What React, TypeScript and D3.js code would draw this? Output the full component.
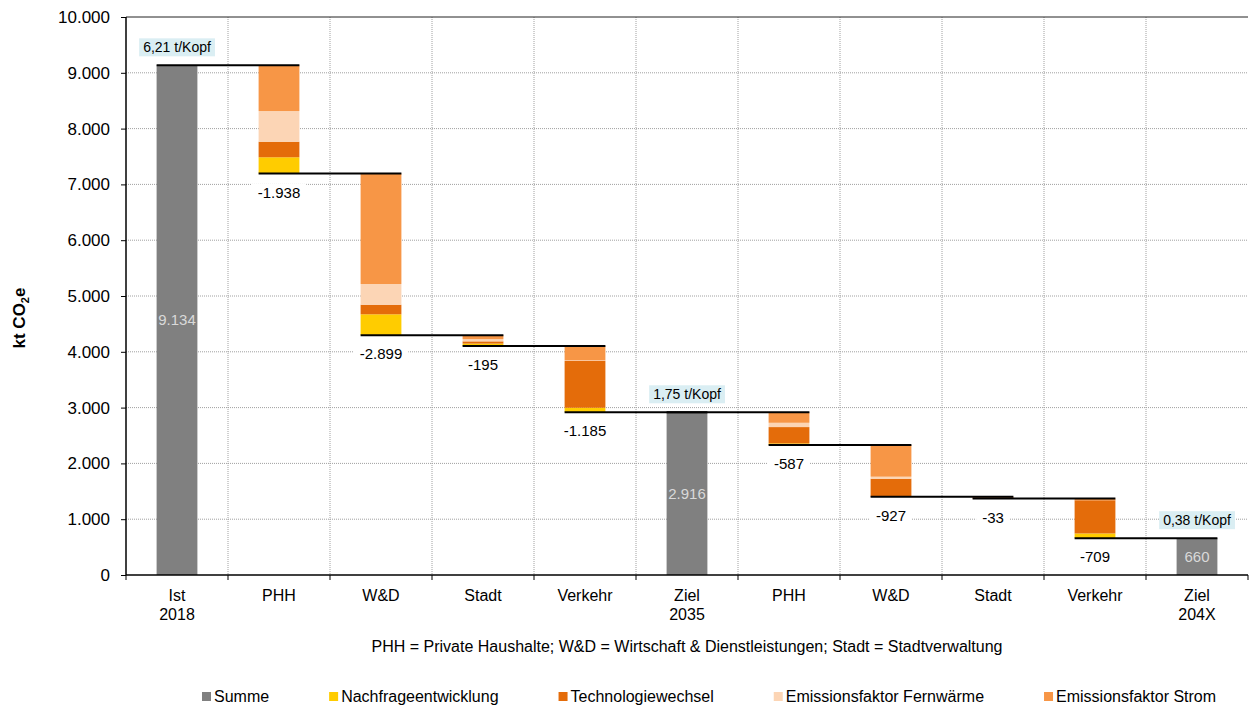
import React, { useEffect, useRef } from 'react';
import * as d3 from 'd3';

// categories (multi line tick labels)
const categories = [
  ['Ist', '2018'], ['PHH'], ['W&D'], ['Stadt'], ['Verkehr'],
  ['Ziel', '2035'], ['PHH'], ['W&D'], ['Stadt'], ['Verkehr'], ['Ziel', '204X']
];

// totals (only for Summe bars)
const summe = [9134, null, null, null, null, 2916, null, null, null, null, 660];

// reductions per driver (kt CO2e)
const nachfrage = [0, 290, 375, 45, 80, 0, 30, 0, 0, 85, 0];
const technologie = [0, 279, 172, 40, 840, 0, 292, 324, 20, 594, 0];
const fernwaerme = [0, 550, 371, 40, 10, 0, 77, 36, 0, 0, 0];
const strom = [0, 819, 1981, 70, 255, 0, 188, 567, 13, 30, 0];

const perCapita = ['6,21 t/Kopf', null, null, null, null, '1,75 t/Kopf', null, null, null, null, '0,38 t/Kopf'];

const yTicks = [0, 1000, 2000, 3000, 4000, 5000, 6000, 7000, 8000, 9000, 10000];

const seriesNames = ['Summe', 'Nachfrageentwicklung', 'Technologiewechsel', 'Emissionsfaktor Fernwärme', 'Emissionsfaktor Strom'];
const seriesColors = ['#808080', '#FFCC00', '#E46C0A', '#FCD5B5', '#F79646'];

const footnote = 'PHH = Private Haushalte; W&D = Wirtschaft & Dienstleistungen; Stadt = Stadtverwaltung';

const FONT = 'Liberation Sans, Arial, sans-serif';

export default function App() {
  const ref = useRef<SVGSVGElement>(null);

  useEffect(() => {
    const width = 1250, height = 706;
    const margin = { top: 17, right: 2, bottom: 131, left: 126 };
    const svg = d3.select(ref.current);
    svg.selectAll('*').remove();
    svg.attr('width', width).attr('height', height).style('font-family', FONT);

    const x = d3.scaleBand<number>()
      .domain(d3.range(categories.length))
      .range([margin.left, width - margin.right]);
    const y = d3.scaleLinear().domain([0, 10000]).range([height - margin.bottom, margin.top]);
    const bw = x.bandwidth() * 0.4;
    const barX = (i: number) => (x(i) as number) + (x.bandwidth() - bw) / 2;

    const fmt = d3.formatLocale({ decimal: ',', thousands: '.', grouping: [3], currency: ['', ' €'], minus: '-' }).format(',d');

    // grid
    const grid = svg.append('g').attr('stroke', '#a0a0a0').attr('stroke-dasharray', '1,1');
    grid.selectAll('line.h')
      .data(yTicks.filter(t => t > 0 && t < 10000))
      .join('line')
      .attr('x1', margin.left).attr('x2', width - margin.right)
      .attr('y1', d => y(d)).attr('y2', d => y(d));
    grid.selectAll('line.v')
      .data(d3.range(1, categories.length))
      .join('line')
      .attr('x1', d => x(d) as number).attr('x2', d => x(d) as number)
      .attr('y1', y(10000)).attr('y2', y(0));

    // waterfall steps
    let level = 0;
    const steps = categories.map((c, i) => {
      if (summe[i] != null) {
        level = summe[i] as number;
        return { i, sum: true, top: level, bottom: 0, end: level, total: level };
      }
      const total = nachfrage[i] + technologie[i] + fernwaerme[i] + strom[i];
      const top = level;
      level = top - total;
      return { i, sum: false, top, bottom: level, end: level, total };
    });

    // stacked reduction segments
    const segs: { i: number; y0: number; y1: number; color: string }[] = [];
    steps.filter(s => !s.sum).forEach(s => {
      let base = s.bottom;
      [nachfrage, technologie, fernwaerme, strom].forEach((arr, k) => {
        const v = arr[s.i];
        if (v > 0) segs.push({ i: s.i, y0: base, y1: base + v, color: seriesColors[k + 1] });
        base += v;
      });
    });
    svg.append('g').selectAll('rect')
      .data(segs)
      .join('rect')
      .attr('x', d => barX(d.i))
      .attr('width', bw)
      .attr('y', d => y(d.y1))
      .attr('height', d => y(d.y0) - y(d.y1))
      .attr('fill', d => d.color);

    // sum bars
    const sums = steps.filter(s => s.sum);
    svg.append('g').selectAll('rect')
      .data(sums)
      .join('rect')
      .attr('x', d => barX(d.i))
      .attr('width', bw)
      .attr('y', d => y(d.top))
      .attr('height', d => y(0) - y(d.top))
      .attr('fill', seriesColors[0]);
    svg.append('g').selectAll('text')
      .data(sums)
      .join('text')
      .attr('x', d => barX(d.i) + bw / 2)
      .attr('y', d => y(d.top / 2))
      .attr('dy', '0.35em')
      .attr('text-anchor', 'middle')
      .attr('font-size', 15)
      .attr('fill', '#d9d9d9')
      .text(d => fmt(d.total));

    // connector lines
    svg.append('g').selectAll('line')
      .data(steps.slice(0, -1))
      .join('line')
      .attr('x1', d => barX(d.i))
      .attr('x2', d => barX(d.i + 1) + bw)
      .attr('y1', d => y(d.end)).attr('y2', d => y(d.end))
      .attr('stroke', '#000')
      .attr('stroke-width', 2);

    // reduction value labels with white background
    const vl = svg.append('g').selectAll('g')
      .data(steps.filter(s => !s.sum))
      .join('g')
      .attr('transform', d => `translate(${barX(d.i) + bw / 2},${y(d.end) + 19})`);
    vl.append('rect').attr('fill', '#fff');
    vl.append('text')
      .attr('text-anchor', 'middle')
      .attr('dy', '0.35em')
      .attr('font-size', 15)
      .attr('fill', '#000')
      .text(d => fmt(-d.total));
    vl.each(function () {
      const g = d3.select(this);
      const bb = (g.select('text').node() as SVGTextElement).getBBox();
      g.select('rect').attr('x', bb.x - 6).attr('y', bb.y).attr('width', bb.width + 12).attr('height', bb.height);
    });

    // per capita boxes
    const pc = svg.append('g').selectAll('g')
      .data(sums.filter(s => perCapita[s.i]))
      .join('g')
      .attr('transform', d => `translate(${barX(d.i) + bw / 2},${y(d.top) - 18})`);
    pc.append('rect').attr('fill', '#DAEEF3');
    pc.append('text')
      .attr('text-anchor', 'middle')
      .attr('dy', '0.35em')
      .attr('font-size', 14)
      .attr('fill', '#000')
      .text(d => perCapita[d.i] as string);
    pc.each(function () {
      const g = d3.select(this);
      const bb = (g.select('text').node() as SVGTextElement).getBBox();
      g.select('rect').attr('x', bb.x - 4).attr('y', -9).attr('width', bb.width + 8).attr('height', 18);
    });

    // plot frame
    svg.append('line')
      .attr('x1', margin.left).attr('x2', width - margin.right)
      .attr('y1', y(10000)).attr('y2', y(10000))
      .attr('stroke', '#222').attr('stroke-width', 1);

    // y axis
    const yAxis = svg.append('g')
      .attr('transform', `translate(${margin.left},0)`)
      .call(d3.axisLeft(y).tickValues(yTicks).tickFormat(d => fmt(d as number)).tickSize(5).tickPadding(11));
    yAxis.select('.domain').remove();
    yAxis.selectAll('text').attr('font-size', 17).attr('font-family', FONT).attr('fill', '#000');
    yAxis.selectAll('line').attr('stroke', '#000');
    svg.append('line')
      .attr('x1', margin.left).attr('x2', margin.left)
      .attr('y1', y(10000)).attr('y2', y(0))
      .attr('stroke', '#000').attr('stroke-width', 1.5);

    // x axis
    svg.append('line')
      .attr('x1', margin.left).attr('x2', width - margin.right)
      .attr('y1', y(0)).attr('y2', y(0))
      .attr('stroke', '#000').attr('stroke-width', 1.5);
    svg.append('g').selectAll('line')
      .data(d3.range(categories.length + 1))
      .join('line')
      .attr('x1', d => margin.left + d * x.bandwidth())
      .attr('x2', d => margin.left + d * x.bandwidth())
      .attr('y1', y(0)).attr('y2', y(0) + 5)
      .attr('stroke', '#000');
    const xl = svg.append('g').selectAll('text')
      .data(categories)
      .join('text')
      .attr('text-anchor', 'middle')
      .attr('font-size', 16)
      .attr('fill', '#000');
    xl.selectAll('tspan')
      .data((d, i) => d.map(t => ({ t, i })))
      .join('tspan')
      .attr('x', d => barX(d.i) + bw / 2)
      .attr('y', (d, k) => y(0) + 26 + k * 18.5)
      .text(d => d.t);

    // y title
    const yt = svg.append('text')
      .attr('transform', `translate(25,318) rotate(-90)`)
      .attr('text-anchor', 'middle')
      .attr('font-size', 17)
      .attr('font-weight', 'bold')
      .attr('fill', '#000');
    yt.append('tspan').text('kt CO');
    yt.append('tspan').attr('font-size', 11).attr('dy', 4).text('2');
    yt.append('tspan').attr('dy', -4).text('e');

    // footnote
    svg.append('text')
      .attr('x', (margin.left + width - margin.right) / 2)
      .attr('y', 652)
      .attr('text-anchor', 'middle')
      .attr('font-size', 16)
      .attr('fill', '#000')
      .text(footnote);

    // legend
    const legend = svg.append('g').attr('transform', 'translate(202,692)');
    let lx = 0;
    seriesNames.forEach((name, k) => {
      const item = legend.append('g').attr('transform', `translate(${lx},0)`);
      item.append('rect').attr('width', 9).attr('height', 9).attr('fill', seriesColors[k]);
      const t = item.append('text')
        .attr('x', 12).attr('y', 10)
        .attr('font-size', 16)
        .attr('fill', '#000')
        .text(name);
      lx += 12 + (t.node() as SVGTextElement).getComputedTextLength() + 60;
    });
  }, []);

  return (
    <div style={{ position: 'absolute', left: 0, top: 0 }}>
      <svg ref={ref}></svg>
    </div>
  );
}
